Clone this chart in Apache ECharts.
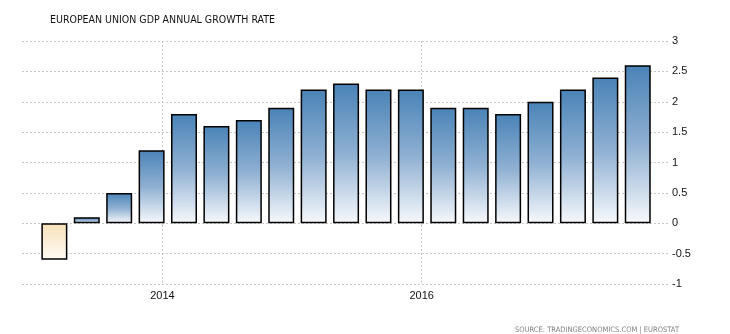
<!DOCTYPE html>
<html>
<head>
<meta charset="utf-8">
<script src="https://cdn.jsdelivr.net/npm/echarts@6/dist/echarts.min.js"></script>
<style>
html,body{margin:0;padding:0;background:#fff;}
#chart{width:730px;height:334px;}
</style>
</head>
<body>
<div id="chart"></div>
<script>
// Quarter dates (year-month) and EU GDP annual growth rate (%)
const periods = ['2013-03','2013-06','2013-09','2013-12',
                 '2014-03','2014-06','2014-09','2014-12',
                 '2015-03','2015-06','2015-09','2015-12',
                 '2016-03','2016-06','2016-09','2016-12',
                 '2017-03','2017-06','2017-09'];
const growth = [-0.6, 0.1, 0.5, 1.2, 1.8, 1.6, 1.7, 1.9, 2.2, 2.3, 2.2, 2.2, 1.9, 1.9, 1.8, 2.0, 2.2, 2.4, 2.6];
const yearTicks = [2014, 2016];

function toYear(p){
  const [y, m] = p.split('-').map(Number);
  return y + (m - 1) / 12;
}

const posGrad = new echarts.graphic.LinearGradient(0, 0, 0, 1, [
  {offset: 0, color: '#4a83b7'},
  {offset: 0.5, color: '#8fb0d2'},
  {offset: 1, color: '#f7f9fc'}
]);
const negGrad = new echarts.graphic.LinearGradient(0, 0, 0, 1, [
  {offset: 0, color: '#f7e1b8'},
  {offset: 1, color: '#fffbf5'}
]);

const seriesData = periods.map((p, i) => ({
  value: [toYear(p), growth[i]],
  itemStyle: {color: growth[i] < 0 ? negGrad : posGrad}
}));

const chart = echarts.init(document.getElementById('chart'), null, {renderer: 'canvas'});
chart.setOption({
  animation: false,
  backgroundColor: '#ffffff',
  title: [{
    text: 'EUROPEAN UNION GDP ANNUAL GROWTH RATE',
    left: 45, top: 10,
    textStyle: {fontFamily: 'DejaVu Sans Condensed', fontSize: 10.5, fontWeight: 'normal', color: '#111'}
  }, {
    text: 'SOURCE: TRADINGECONOMICS.COM | EUROSTAT',
    right: 46, top: 321,
    textStyle: {fontFamily: 'DejaVu Sans Condensed', fontSize: 7.5, fontWeight: 'normal', color: '#808080'}
  }],
  grid: {left: 22, right: 62, top: 41, bottom: 50},
  xAxis: {
    type: 'value',
    min: 2012.917,
    max: 2017.9,
    axisLine: {show: false},
    axisTick: {show: true, length: 4, customValues: yearTicks,
      lineStyle: {color: '#c8c8c8', type: [2, 2]}},
    axisLabel: {customValues: yearTicks, color: '#111', fontFamily: 'Liberation Sans', fontSize: 11, margin: 6,
      formatter: v => String(Math.round(v))},
    splitLine: {show: true, lineStyle: {color: '#c8c8c8', type: [2, 2], width: 1}}
  },
  yAxis: {
    type: 'value',
    position: 'right',
    min: -1, max: 3, interval: 0.5,
    axisLine: {show: false},
    axisTick: {show: false},
    axisLabel: {color: '#111', fontFamily: 'Liberation Sans', fontSize: 11, margin: 4,
      formatter: v => String(v)},
    splitLine: {show: true, lineStyle: {color: '#c8c8c8', type: [2, 2], width: 1}}
  },
  series: [{
    type: 'bar',
    data: seriesData,
    barWidth: 26,
    itemStyle: {borderColor: '#000', borderWidth: 1.5}
  }]
});
</script>
</body>
</html>
